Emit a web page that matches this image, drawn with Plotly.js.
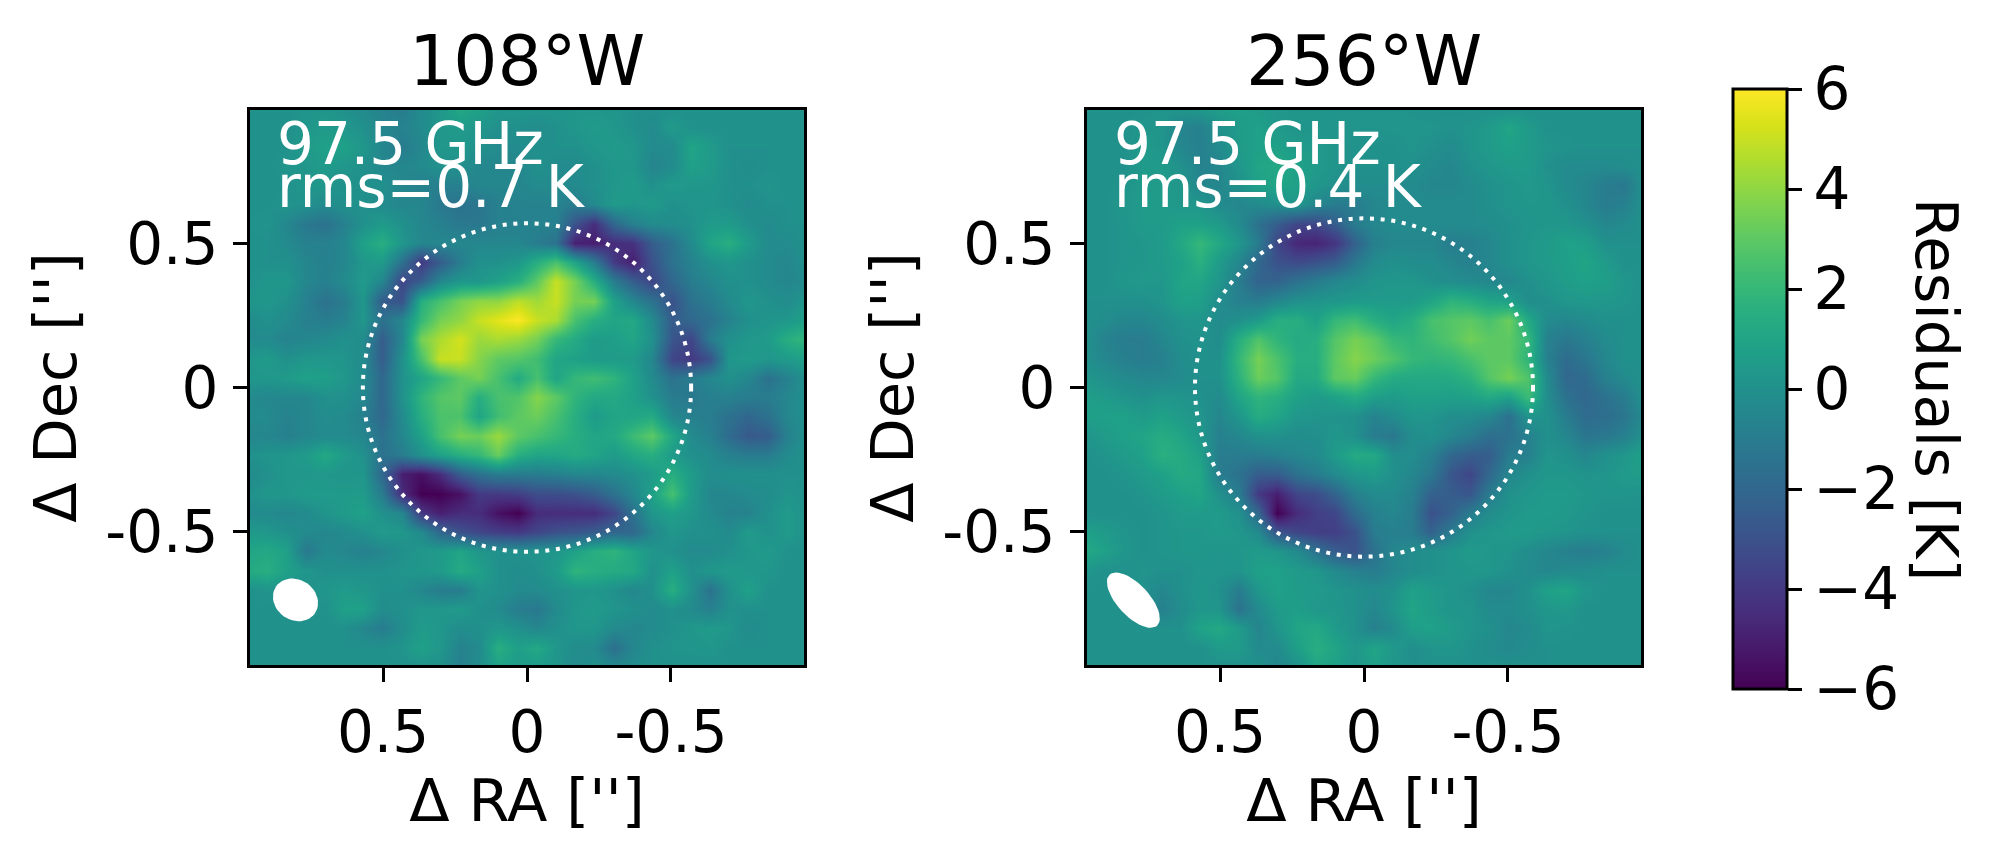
<!DOCTYPE html>
<html>
<head>
<meta charset="utf-8">
<script src="https://cdn.plot.ly/plotly-3.0.1.min.js"></script>
<style>body { margin: 0; background: white; }</style>
</head>
<body>
<div id="chart" style="width:1993px;height:855px"></div>
<script>
// offsets in arcsec
const raOffsets = [0.97,0.903,0.836,0.769,0.702,0.636,0.569,0.502,0.435,0.368,0.301,0.234,0.167,0.1,0.033,-0.033,-0.1,-0.167,-0.234,-0.301,-0.368,-0.435,-0.502,-0.569,-0.636,-0.702,-0.769,-0.836,-0.903,-0.97];
const decOffsets = [0.97,0.903,0.836,0.769,0.702,0.636,0.569,0.502,0.435,0.368,0.301,0.234,0.167,0.1,0.033,-0.033,-0.1,-0.167,-0.234,-0.301,-0.368,-0.435,-0.502,-0.569,-0.636,-0.702,-0.769,-0.836,-0.903,-0.97];

const axisTicks = [0.5, 0, -0.5];
const axisTickLabels = ['0.5', '0', '-0.5'];
const colorTicks = [-6, -4, -2, 0, 2, 4, 6];

const limbRadius108 = 0.57;
const limbRadius256 = 0.587;

// residuals [K], rows top to bottom
const residuals108 = [
[0,0,0,0.2,0.2,0,-0.3,-0.7,-1,-0.3,0.3,1.2,0.8,0.3,0.3,0.3,0.3,0.3,0.3,0.2,0,0,0,0,0,0,0,0,0,0],
[0,0,0,0.3,0.5,0.3,0,-0.5,-0.7,-0.3,0.3,0.5,0.3,0,0,-0.2,0,0.3,0.5,0.3,0,-0.3,0.5,0,0,0,0,0,0,0],
[0,0,0,0.5,0.8,0.8,0.3,-0.5,-1,-0.5,0.3,0.3,0,-0.3,-0.3,0,0,0,0.3,0.5,0.3,-0.3,-0.3,1,0.5,0,0,0,0,0],
[0,0,0.2,0.3,0.5,0.3,0,-0.5,-0.5,-0.3,0,0,-0.5,-0.5,-0.5,0,-0.3,-0.3,0,0.3,0.3,-0.6,-0.3,0.8,0.5,0,-0.2,0,0,0],
[0,0,0,0.3,0.3,0,0,0,-0.5,-0.8,-0.8,-0.8,-0.5,-0.5,-0.5,-0.3,-0.3,-0.3,0,0.3,0.5,0,0.5,0.3,0.3,0,0,0.2,0,0],
[0,0,0.2,0,-0.3,0,0,-0.3,-0.5,-0.5,-1.2,-1.5,-1.3,-0.8,-0.7,-0.7,-0.7,-1,-0.3,0.5,0.3,0.5,0,0.2,0.2,0,-0.3,0,0,0],
[0,0.2,-0.5,-1.2,-1.5,-0.8,0,0.5,0,-0.5,-0.8,-1.2,-1.2,-0.8,-0.8,-0.7,-0.8,-3,-4.5,-2,-0.8,-0.3,-0.2,0,0.5,0.5,0,-0.3,0,0],
[0,0,-0.3,-0.8,-0.8,-0.5,0.8, 1.5,0.3,-0.5,-0.5,-0.5,-0.5,-0.5,-0.5,-1,-1.5,-5,-5,-4.5,-4.3,-2.5,-1.5, -0.3,1,1.5,0.5,-0.3,-0.3,0],
[0,0,0,-0.5,-0.8,-0.5,0.3, 0.5,-1.5,-4,-2.5,-1,0,0,0.3,1.5,2.5,1,-1,-4,-5,-3,-1.5, -0.7,0,0.3,0,-0.3,-0.5,0],
[0,0.3,0.3,-0.5,-0.8,-0.3,0.5, -0.5,-3.5,-2.5,-0.5,0.3,0.3,0.8,1.5,3,5,3.5,1.5,-1,-2.5,-3.5,-2, -1,-0.5,0,0,-0.3,-0.5,-0.3],
[0.3,0.3,0,-0.8,-1.5,-1,0.3, -2.5,-3,1.5,2.5,3.5,4,4,4.8,4.3,5,3.5,3.5,0.8,-0.5,-1.5,-3, -1.5,-1,-0.3,0.3,0,-0.2,0.3],
[-0.3,0,-0.3,-0.8,-1,-0.7,0.3, -1.5,-0.5,2,3.5,4,5,5.5,6,5,4.5,2.5,1.5,1,1.2,-0.3,-2.5, -2,-1.5,-0.7,0,0.2,0.3,0.8],
[-0.3,-0.3,-0.7,-0.5,-0.3,0,-0.2, -2.5,-0.5,3.5,4.5,5.2,4.2,4.5,4.2,3.5,2,1.3,0.5,0.7,1,0,-2.8, -3.5,-1,0,0.3,0.5,1.5,2],
[0.3,0.5,0,0.3,0.3,0.2,-0.3, -2.5,0,2.5,5,5,3.8,3,2.8,2.3,1,0.8,0.5,0.5,0.5,-0.5,-3.5, -4,-3,0.3,0.5,0.3,0.5,0.8],
[0.3,0.3,0.5,0.8,0.7,0.3,-0.3, -2,0,1,2,3,3.5,2.5,1.3,2.5,1,2,2.3,1.8,0.8,-0.3,-1.5, -1,-0.5,0,-0.5,-1.5,-0.8,0],
[-0.3,-0.5,-0.5,-0.5,0,0,-0.5, -2,0,1.8,2.8,3,1.5,2.5,2.7,3.8,3,1.8,1.2,1.2,0.8,0,-1, -1.2,-0.8,-0.8,-1,-1,-0.5,0],
[-0.3,-0.3,-0.7,-0.5,-0.2,-0.3,-0.8, -2,-0.3,1.5,2.6,2.6,1,2.3,3,3.3,2.5,1.5,0.5,1,1,1.3,-0.5, -0.8,-1,-1.5,-2,-1.5,-0.5,0],
[-0.5,-0.5,-0.8,-0.5,-0.3,-0.3,-0.5, -1.5,-0.5,0.8,2.5,3.5,3.3,4.2,3,2.5,2,1.5,1,1.2,2.2,3,1.2, -0.3,-0.8,-1.8,-2.7,-2.5,-0.8,0],
[0,0.2,0.3,0.5,1.2,0.5,0, -1.5,-1,0,0.8,1.5,2,3.2,1.5,1,1,1.3,1,0.5,1.1,1.5,0.5, 0,-0.3,-0.8,-1,-1,-0.3,0],
[-0.3,0,0.3,0.3,0.3,0.2,0.3, -2,-5,-5.5,-4.5,-2.5,-1.5,-1,-1,-1,-0.8,-0.5,-0.5,-0.3,0,0.5,1.5, 0.5,-0.2,0,0,0,0,0],
[0,0.3,0.3,0.5,0.5,0.5,0.5, -1,-4.5,-6,-6,-5.5,-4,-4,-3.8,-3.2,-3.2,-3,-2.5,-1.5,-0.5,0.8,2.5, 0.5,-0.5,-0.5,-0.3,-0.2,0.2,0],
[-0.3,-0.3,-0.5,-0.3,0.2,0.5,0.8, 0,-0.5,-4,-5,-4.5,-4.5,-5.5,-6,-4.5,-4.5,-4.5,-4.5,-3.5,-1.5,0.3,0.7, 0.3,-0.3,-0.7,-0.7,0,0.5,0],
[0.5,0.3,0,-0.3,-0.5,-0.3,0, 0.5,0.3,-0.3,-2,-3,-3.5,-3.8,-4,-3.5,-3,-2.8,-2.5,-2,-2,-0.5,0.3, 0,0,-0.3,0.5,0,0.5,0],
[1,1.2,0.8,-1.2,-0.3,-0.5,-0.8,-0.5,0,0.3,0.5,1,0.3,0,0,0.2,0.3,0.8,1.5,1.8,1,0.3,0,-0.3,-0.3,0,0.3,0.5,0,0],
[1.3,1.5,0.8,0.3,0,0,0,0,0.2,0.3,0.5,1.3,0.8,0,-0.2,0,0.5,1.8,1.5,1.3,1.2,0,0.8,0,0.3,0.5,0.3,0.3,0,0],
[0,0.2,0,0,0.3,0.5,0.3,0,0,-0.5,-1,-1,0.2,0,-0.3,-0.3,0,0.2,0.3,0,-0.5,0,1.5,0,-1.5,0,0.8,0,0,0],
[0,0,0,0,0,0.8,0.8,-0.2,0,0.3,0.3,0.5,0,-0.3,-1,-1.2,-0.3,0.3,0.5,0.2,0,-0.3,0,-0.3,-0.8,0,0,0,0,0],
[0,0,0,0,0,0,-0.5,-1,-0.2,0.5,0.3,-0.2,0,0.3,0,-0.5,0,0.3,0.3,-0.3,-0.5,-0.3,0,0.3,0.5,0.3,-0.3,0,0,0],
[0,0,0,0,0,0,0,0,0.2,0.8,0.3,-0.7,-0.3,1.5,0.7,1.2,0.3,-0.2,-0.3,-1.6,-0.5,0,0.2,0.2,0.3,0,0,0,0,0],
[0,0,0,0,0,0,0,0,0,0,0,-0.8,-0.2,0.8,0.5,0.5,0.2,-0.3,0,-0.3,-0.2,0,0,0,0,0,0,0,0,0]
];

const residuals256 = [
[0,0,0,0,0.2,0.3,0.5,0.7,0.8,0.5,0.3,0.3,0.3,0.2,0.2,0.2,0.2,0.1,0,0,0,0,0,0,0,0,0,0,0,0],
[0,0,0,0.3,0.2,-0.6,-0.8,0,0.5,0.8,0.4,0.2,0.2,0.2,0.2,0.2,0.2,0.2,0.2,0.1,0.2,0.5,1,0.5,0,0,0,0,0,0],
[0,0,0,0.5,0.2,-0.5,-0.8,-0.3,0.5,0.8,0.8,0.5,0.5,0.2,0.1,0,0,0.2,0,-0.3,0.2,0.5,0.8,0.5,0.2,0.1,0,0,0,0],
[0,0,0,0.5,0.5,0,-0.7,-0.5,0.3,1,1.2,0.8,0.5,0.2,0,0,0,0,-0.3,-0.5,0,0.3,0.5,0.5,0,-0.3,-0.3,-0.3,-0.2,0],
[0,0,0.1,0.5,0.5,0.3,-0.5,-0.5,0,0.8,1,0.8,0.3,0,-0.2,-0.2,-0.3,-0.3,-0.5,-0.5,-0.3,0,0.2,0.4,0.2,-0.3,-0.5,-1,-1.2,0],
[0,0,0.3,0.5,0.5,0.3,0.3,-0.3,-0.5,-0.3,0,0.3,-0.5,-1,-1,-0.5,-0.3,-0.3,-0.3,-0.3,-0.3,0,0.2,0.3,0.3,0,-0.5,-1,-0.8,0],
[0,0,0.2,0.5,0.5,0.8,0.8,0.5,-0.3,-1.5,-2.5,-3.5,-3.5,-2.5,-1,-0.5,-0.3,-0.3,-0.3,-0.3,-0.3,-0.2,0,0.2,0.3,0.3,0,-0.5,-0.3,0],
[0,0,0.2,0.3,0.5,1.2,2, 1.2,0.3,-1,-3.5,-4.7,-4.8,-4.2,-2.3,-0.8,-0.5,-0.5,-0.5,-1,-0.8,-0.5,0, 0.3,0.5,0.8,0.7,0,0,0],
[0,0,0.2,0.3,0.5,0.8,1.6, 0.5,-0.5,-2,-3,-3.3,-3,-2.5,-1.2,-0.3,0,-0.2,-0.2,-0.5,-0.8,-0.5,0, 0.3,0.5,0.7,1,0.5,0,0],
[0,0,0.3,0.4,0.3,1,1, 0.3,-1,-2.2,-2.2,-1.5,-1,-0.5,-0.2,0.2,0.3,0.3,0,-0.2,-0.3,-0.5,-0.5, 0,0.3,0.6,0.8,0.7,0.3,0],
[0,0,0,0,0.2,0.8,0.7, -0.2,-0.8,-1,-0.5,0,0.2,0.3,0.5,0.5,0.5,0.5,1,1.8,1.5,1,0.8, -0.2,0,0.3,0.4,0.3,0.2,0],
[0,-0.2,-0.5,-0.5,-0.2,0.2,0.3, -0.3,0,0.5,1.5,1.5,0.8,2,2.3,1.5,1,1.5,2.5,2.8,3,2.5,3.3, 1.2,-0.3,-0.5,-0.3,0,0,0],
[0,-0.7,-1,-1,-0.5,0,0.1, -0.2,1.5,2.7,1.8,1.3,1.5,2.8,3.5,3,2,1.8,2.3,2.8,3.4,3,3, 2,-0.8,-1.2,-0.8,-0.3,0,0],
[0,-0.5,-0.8,-1,-0.8,-0.2,0, 0,2,3.5,2.6,1.5,1.5,3,3.8,3.3,2.7,2,1.8,2,2.5,3,3, 1.8,-0.8,-1.8,-1.3,-0.5,0,0],
[0.3,0,-0.3,-0.5,-0.5,-0.3,0, 0,1.7,3.3,2.8,1.2,1.3,3,3.2,2,1.3,1.2,1.2,1.3,1.7,2.8,3.5, 2.7,-0.3,-2,-1.8,-0.8,-0.3,0],
[0.7,0.5,0.2,0,0.3,0.2,0, -0.3,1,1.8,1.5,0.8,0.5,0.8,1.3,0.7,0.5,0.8,0.8,0.7,0.8,1.2,0.8, 2.2,-0.2,-1.5,-2,-1.5,-1,0],
[0.7,0.8,0.8,0.5,0.8,0.5,0.2, -0.5,0.3,1.4,1,0.3,0.2,0.1,0,-0.7,-0.2,0.3,0.2,-0.1,-0.2,-0.5,-1.5, 0.2,0,-1,-1.8,-1.7,-1.3,-0.3],
[0.2,0.5,0.8,1,1.4,1,0.3, -0.8,-0.5,0,0,-0.2,-0.1,0.3,0,-1,-1.2,-0.2,0,-0.5,-1,-1.7,-1.5, -0.8,0,-0.5,-1.3,-1.2,-0.8,0],
[0,0.2,0.5,0.8,1.6,1.3,0.8, -1,-1,-1,-0.8,-0.5,-0.3,0.5,1.3,1.2,-0.1,-0.2,-0.8,-2,-2.5,-2.5,-1, -0.8,0.2,0,-0.5,0,0.3,0.8],
[0,0,0.2,0.5,0.8,1.3,1.1, -1,-1.5,-2.5,-2.5,-1.5,-1,-0.3,0.3,0.5,0,-0.5,-1.2,-2.8,-3.5,-2,-0.5, 0,0.3,0.3,0.1,0.2,0.5,0.6],
[0,0,0,0.2,0.5,0.8,1, 0,-1,-4,-5,-3.5,-3.2,-2.2,-0.8,-0.3,-0.3,-0.8,-2.3,-2.5,-2.8,-1,0, 0.3,0.5,0.5,0.3,0.2,0.2,0.1],
[0,0,0,0,0.2,0.5,0.5, 0.5,0,-2,-6,-4.5,-3.8,-3.5,-1.8,-0.8,-0.5,-1,-3,-2.3,-1,-0.2,0.2, 0.5,0.5,0.4,0.2,0,0,0],
[0.8,0.5,0.2,0,0.2,0.3,0.3, 0.5,0.3,-0.3,-2.8,-3.5,-3.8,-3.8,-3,-1,-0.8,-1,-2.3,-1,0,0.3,0.5, 0.5,0.3,0.2,0,0,0,0],
[1.2,0.8,0.3,0,0.2,0.3,0.3,0.2,0.3,0.5,0.3,-0.3,-1.5,-2.5,-3,-1.5,-0.5,-0.2,0,0.2,0.5,0.3,0.2,-0.2,-0.5,-0.8,-1,-0.8,-0.3,0],
[0.3,0,0,0.2,0,0,0.2,0.2,0.2,0.8,0.8,0.5,0.3,-0.3,-0.8,-1,-0.5,-0.2,0,0.2,0.3,0.3,0,-0.3,-0.5,-0.3,-0.2,0,0,0],
[0,0,0,0,-0.5,0,0.3,0,-1,0.3,0.8,0.5,0.5,0.2,0,-0.2,0,0.8,0.5,0.2,0,-0.5,-0.5,0,0.8,1,0.3,0,0,0],
[0,0,0,0,-0.8,-0.2,0.3,0.2,-1.5,-0.3,0.5,0.7,0.3,0.3,0,-0.5,0.2,1,0.6,0.2,0.2,-0.3,-0.3,0,0.3,0.4,0,0,0,0],
[0,0,0,0,0,0,0.9,1.2,0.5,-0.6,0.2,1,1.2,0.5,0,-0.8,-0.3,0.7,0.8,0.5,0.2,0,-0.5,-0.3,0.2,0.1,0,0,0,0],
[0,0,0,0,0,0,0,0.5,0.5,-0.3,-0.3,0.7,1.5,1,0.3,1,0.4,-0.1,0.2,0.3,0,-0.2,-0.4,-0.2,0,0,0,0,0,0],
[0,0,0,0,0,0,0,0,0,0,-0.5,0,1,0.8,0.2,0.8,0.2,0,0,0,0,0,0,0,0,0,0,0,0,0]
];

const FONT = 'DejaVu Sans';
const W = 1993, H = 855;

function heatmap(z, xa, ya, withBar) {
    const t = {
        type: 'heatmap', x: raOffsets, y: decOffsets, z: z, xaxis: xa, yaxis: ya,
        zmin: -6, zmax: 6, colorscale: 'Viridis', zsmooth: 'best', hoverinfo: 'skip',
        showscale: withBar
    };
    if (withBar) {
        t.colorbar = {
            x: 1733 / W, xanchor: 'left', xpad: 0, y: 1 - 389 / H, yanchor: 'middle', ypad: 0,
            thicknessmode: 'pixels', thickness: 54, lenmode: 'pixels', len: 600,
            outlinewidth: 3, outlinecolor: 'black',
            tickmode: 'array', tickvals: colorTicks, ticks: 'outside', ticklen: 14, tickwidth: 3,
            tickcolor: 'black', tickfont: { family: FONT, size: 58, color: 'black' }
        };
    }
    return t;
}

// synthesized beam, drawn as a filled ellipse
function beam(ra0, dec0, a, b, angleDeg, xa, ya) {
    const xs = [], ys = [], phi = angleDeg * Math.PI / 180;
    for (let i = 0; i <= 48; i++) {
        const t = i / 48 * 2 * Math.PI;
        const dx = a * Math.cos(t) * Math.cos(phi) - b * Math.sin(t) * Math.sin(phi);
        const dy = a * Math.cos(t) * Math.sin(phi) + b * Math.sin(t) * Math.cos(phi);
        xs.push(ra0 - dx);
        ys.push(dec0 + dy);
    }
    return { type: 'scatter', x: xs, y: ys, xaxis: xa, yaxis: ya, mode: 'lines', fill: 'toself',
        fillcolor: 'white', line: { color: 'white', width: 0 }, hoverinfo: 'skip', showlegend: false };
}

function xAxis(left, right, anchor) {
    return {
        domain: [left / W, right / W], range: [0.962, -0.962], anchor: anchor, showgrid: false, zeroline: false,
        showline: true, mirror: true, linecolor: 'black', linewidth: 3,
        ticks: 'outside', ticklen: 14, tickwidth: 3, tickcolor: 'black',
        tickmode: 'array', tickvals: axisTicks, ticktext: axisTickLabels,
        tickfont: { family: FONT, size: 58, color: 'black' },
        title: { text: 'Δ RA [\'\']', font: { family: FONT, size: 59, color: 'black' }, standoff: 8 }
    };
}

function yAxis(anchor) {
    return {
        domain: [1 - 665 / H, 1 - 110 / H], range: [-0.963, 0.963], anchor: anchor, showgrid: false, zeroline: false,
        showline: true, mirror: true, linecolor: 'black', linewidth: 3,
        ticks: 'outside', ticklen: 14, tickwidth: 3, tickcolor: 'black', ticklabelstandoff: 3,
        tickmode: 'array', tickvals: axisTicks, ticktext: axisTickLabels,
        tickfont: { family: FONT, size: 58, color: 'black' },
        title: { text: 'Δ Dec [\'\']', font: { family: FONT, size: 59, color: 'black' }, standoff: 10 }
    };
}

function limb(r, xa, ya) {
    return { type: 'circle', xref: xa, yref: ya, x0: -r, x1: r, y0: -r, y1: r,
        line: { color: 'white', width: 4, dash: '4px,6.7px' } };
}

function label(text, xa, ya, y) {
    return { text: text, xref: xa, yref: ya, x: 0.875, y: y, xanchor: 'left', yanchor: 'middle', showarrow: false,
        font: { family: FONT, size: 58, color: 'white' } };
}

function panelTitle(text, cx) {
    return { text: text, xref: 'paper', yref: 'paper', x: cx / W, y: 1 - 60 / H, xanchor: 'center', yanchor: 'middle',
        showarrow: false, font: { family: FONT, size: 69.5, color: 'black' } };
}

const data = [
    heatmap(residuals108, 'x', 'y', true),
    heatmap(residuals256, 'x2', 'y2', false),
    beam(0.804, -0.737, 0.082, 0.07, -35, 'x', 'y'),
    beam(0.801, -0.738, 0.121, 0.055, -47, 'x2', 'y2')
];

const layout = {
    width: W, height: H, margin: { l: 0, r: 0, t: 0, b: 0 },
    paper_bgcolor: 'white', plot_bgcolor: '#21918c', showlegend: false,
    font: { family: FONT, color: 'black' },
    xaxis: xAxis(250, 804, 'y'),
    yaxis: yAxis('x'),
    xaxis2: xAxis(1087, 1641, 'y2'),
    yaxis2: yAxis('x2'),
    shapes: [limb(limbRadius108, 'x', 'y'), limb(limbRadius256, 'x2', 'y2')],
    annotations: [
        panelTitle('108°W', 527),
        panelTitle('256°W', 1364),
        label('97.5 GHz', 'x', 'y', 0.845),
        label('rms=0.7 K', 'x', 'y', 0.695),
        label('97.5 GHz', 'x2', 'y2', 0.845),
        label('rms=0.4 K', 'x2', 'y2', 0.695),
        { text: 'Residuals [K]', xref: 'paper', yref: 'paper', x: 1937 / W, y: 1 - 389 / H, textangle: 90,
          xanchor: 'center', yanchor: 'middle', showarrow: false, font: { family: FONT, size: 59, color: 'black' } }
    ]
};

Plotly.newPlot('chart', data, layout, { displayModeBar: false });
</script>
</body>
</html>
